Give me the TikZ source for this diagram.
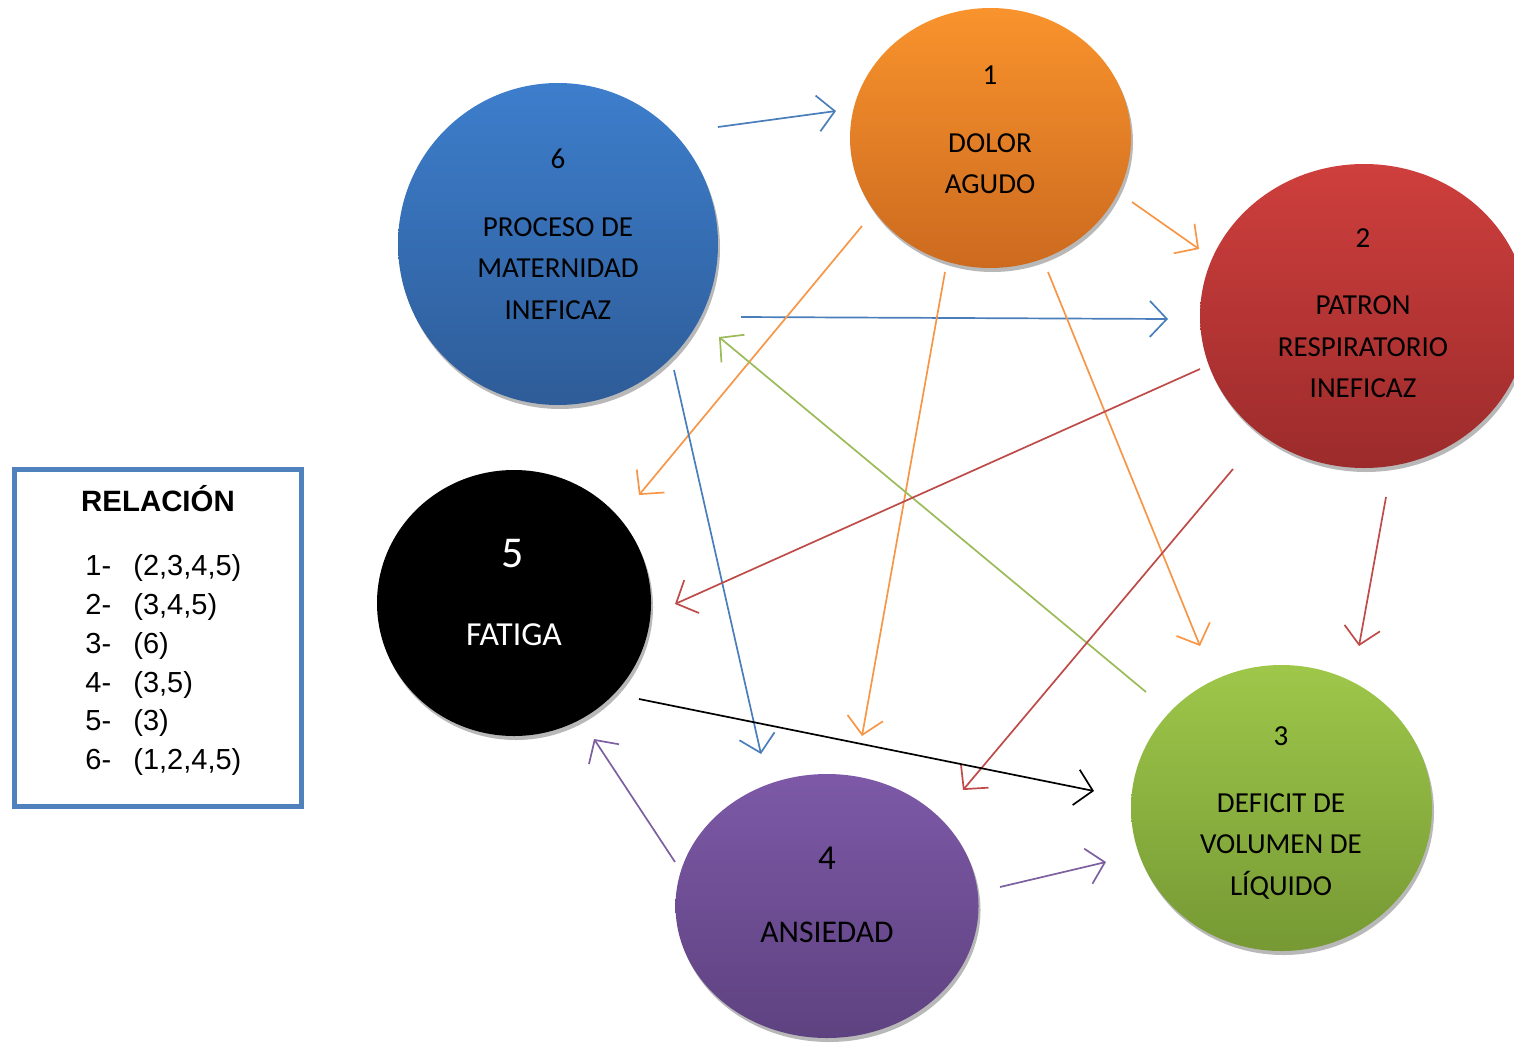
\documentclass[tikz,border=0pt]{standalone}
\usepackage{fontspec}
\setmainfont{Carlito}
\newfontfamily\arialfont{Liberation Sans}
\usetikzlibrary{arrows.meta,shapes.geometric}
\definecolor{orTop}{HTML}{F9932D}
\definecolor{orBot}{HTML}{CC6A1F}
\definecolor{blTop}{HTML}{3D7ECC}
\definecolor{blBot}{HTML}{2E5C98}
\definecolor{rdTop}{HTML}{CE3F3D}
\definecolor{rdBot}{HTML}{9C2B2B}
\definecolor{grTop}{HTML}{9EC74A}
\definecolor{grBot}{HTML}{769934}
\definecolor{puTop}{HTML}{7D59A7}
\definecolor{puBot}{HTML}{5E4280}
\definecolor{lnBlue}{HTML}{4A7EBB}
\definecolor{lnOrange}{HTML}{F79646}
\definecolor{lnRed}{HTML}{BE4B48}
\definecolor{lnGreen}{HTML}{9BBB59}
\definecolor{lnPurple}{HTML}{7D60A0}
\definecolor{legBlue}{HTML}{4F81BD}
\begin{document}
\begin{tikzpicture}[x=0.5pt,y=-0.5pt,
  circ/.style={ellipse,inner sep=0pt,outer sep=0pt},
  shad/.style={ellipse,inner sep=0pt,outer sep=0pt,fill=black!28},
  ctext/.style={anchor=base,inner sep=0pt,font=\fontsize{14.5}{17}\selectfont},
  bignum/.style={anchor=base,inner sep=0pt,font=\fontsize{22}{26}\selectfont},
  midnum/.style={anchor=base,inner sep=0pt,font=\fontsize{17.5}{21}\selectfont},
  legtext/.style={anchor=base west,inner sep=0pt,font=\arialfont\fontsize{14.5}{17}\selectfont},
  conn/.style={line width=0.85pt,-{Straight Barb[length=8.5pt,width=18pt,line width=0.85pt]}}]
\useasboundingbox (0,0) rectangle (1514,1044);

% ---- shadows ----
\node[shad,minimum width=140.5pt,minimum height=130pt] (sh1) at (992.5,142) {};
\node[shad,minimum width=160pt,minimum height=161pt] (sh6) at (560,248) {};
\node[shad,minimum width=164pt,minimum height=152pt] (sh2) at (1366,320) {};
\node[shad,minimum width=137pt,minimum height=133pt] (sh5) at (516,607) {};
\node[shad,minimum width=150.5pt,minimum height=143pt] (sh3) at (1283.5,812) {};
\node[shad,minimum width=151.5pt,minimum height=132pt] (sh4) at (829,910) {};

% ---- circles ----
\node[circ,top color=orTop,bottom color=orBot,minimum width=140.5pt,minimum height=130pt] (c1) at (990.5,138) {};
\node[circ,top color=blTop,bottom color=blBot,minimum width=160pt,minimum height=161pt] (c6) at (558,244) {};
\node[circ,top color=rdTop,bottom color=rdBot,minimum width=164pt,minimum height=152pt] (c2) at (1364,316) {};
\node[circ,fill=black,minimum width=137pt,minimum height=133pt] (c5) at (514,603) {};
\node[circ,top color=grTop,bottom color=grBot,minimum width=150.5pt,minimum height=143pt] (c3) at (1281.5,808) {};
\node[circ,top color=puTop,bottom color=puBot,minimum width=151.5pt,minimum height=132pt] (c4) at (827,906) {};

% ---- circle texts ----
\node[ctext] (t1a) at (990,84) {1};
\node[ctext] (t1b) at (990,152) {DOLOR};
\node[ctext] (t1c) at (990,193) {AGUDO};

\node[ctext] (t6a) at (558,168) {6};
\node[ctext] (t6b) at (558,236) {PROCESO DE};
\node[ctext] (t6c) at (558,277) {MATERNIDAD};
\node[ctext] (t6d) at (558,319) {INEFICAZ};

\node[ctext] (t2a) at (1363,247) {2};
\node[ctext] (t2b) at (1363,314) {PATRON};
\node[ctext] (t2c) at (1363,356) {RESPIRATORIO};
\node[ctext] (t2d) at (1363,397) {INEFICAZ};

\node[bignum,text=white] (t5a) at (513,567) {5};
\node[ctext,text=white,font=\fontsize{16.8}{20}\selectfont] (t5b) at (514,645) {FATIGA};

\node[ctext] (t3a) at (1281,745) {3};
\node[ctext] (t3b) at (1281,812) {DEFICIT DE};
\node[ctext] (t3c) at (1281,853) {VOLUMEN DE};
\node[ctext] (t3d) at (1281,895) {LÍQUIDO};

\node[midnum] (t4a) at (827,869) {4};
\node[ctext,font=\fontsize{15.8}{19}\selectfont] (t4b) at (827,942) {ANSIEDAD};

% ---- legend ----
\node[draw=legBlue,line width=2.5pt,minimum width=143.5pt,minimum height=168.5pt,inner sep=0pt] (leg) at (158,638) {};
\node[anchor=base,inner sep=0pt,font=\arialfont\bfseries\fontsize{14.7}{17}\selectfont] (legT) at (158,511) {RELACIÓN};
\node[legtext] (l1a) at (85,575) {1-};
\node[legtext] (l1b) at (133,575) {(2,3,4,5)};
\node[legtext] (l2a) at (85,614) {2-};
\node[legtext] (l2b) at (133,614) {(3,4,5)};
\node[legtext] (l3a) at (85,653) {3-};
\node[legtext] (l3b) at (133,653) {(6)};
\node[legtext] (l4a) at (85,692) {4-};
\node[legtext] (l4b) at (133,692) {(3,5)};
\node[legtext] (l5a) at (85,730) {5-};
\node[legtext] (l5b) at (133,730) {(3)};
\node[legtext] (l6a) at (85,769) {6-};
\node[legtext] (l6b) at (133,769) {(1,2,4,5)};

% ---- connector end points ----
\coordinate (a1s) at (718,127);  \coordinate (a1e) at (836,111);
\coordinate (a2s) at (1132,202); \coordinate (a2e) at (1199,249);
\coordinate (a3s) at (741,317);  \coordinate (a3e) at (1168,319);
\coordinate (a4s) at (862,226);  \coordinate (a4e) at (639,495);
\coordinate (a5s) at (945,272);  \coordinate (a5e) at (862,736);
\coordinate (a6s) at (1048,272); \coordinate (a6e) at (1200,646);
\coordinate (a7s) at (1146,692); \coordinate (a7e) at (719,337);
\coordinate (a8s) at (674,370);  \coordinate (a8e) at (761,754);
\coordinate (a9s) at (1200,369); \coordinate (a9e) at (675,604);
\coordinate (a10s) at (1233,469); \coordinate (a10e) at (963,790);
\coordinate (a11s) at (1386,497); \coordinate (a11e) at (1359,646);
\coordinate (a12s) at (639,699);  \coordinate (a12e) at (1094,791);
\coordinate (a13s) at (675,862);  \coordinate (a13e) at (594,739);
\coordinate (a14s) at (1000,887); \coordinate (a14e) at (1106,862);

% ---- connectors ----
\draw[conn,lnBlue] (a1s) -- (a1e);
\draw[conn,lnOrange] (a2s) -- (a2e);
\draw[conn,lnBlue] (a3s) -- (a3e);
\draw[conn,lnOrange] (a4s) -- (a4e);
\draw[conn,lnOrange] (a5s) -- (a5e);
\draw[conn,lnOrange] (a6s) -- (a6e);
\draw[conn,lnGreen] (a7s) -- (a7e);
\draw[conn,lnBlue] (a8s) -- (a8e);
\draw[conn,lnRed] (a9s) -- (a9e);
\draw[conn,lnRed] (a10s) -- (a10e);
\draw[conn,lnRed] (a11s) -- (a11e);
\draw[conn,black] (a12s) -- (a12e);
\draw[conn,lnPurple] (a13s) -- (a13e);
\draw[conn,lnPurple] (a14s) -- (a14e);
\end{tikzpicture}
\end{document}
